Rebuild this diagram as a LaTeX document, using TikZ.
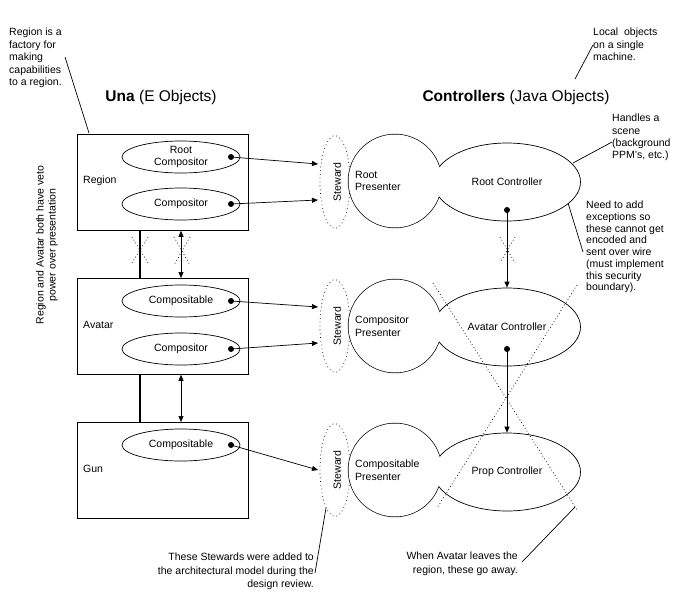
\documentclass[tikz,border=0pt]{standalone}
\usepackage{fontspec}
\setmainfont{Liberation Sans}
\usetikzlibrary{arrows.meta,shapes.geometric}
\begin{document}
\begin{tikzpicture}[x=1pt,y=-1pt,
  every node/.style={font=\fontsize{10.5}{12.5}\selectfont, inner sep=0pt},
  box/.style={draw, line width=0.8pt, minimum width=171pt, minimum height=96pt, anchor=north west},
  capell/.style={draw, ellipse, minimum width=118pt, minimum height=32pt, line width=0.7pt, align=center},
  stew/.style={draw, ellipse, dash pattern=on 0.8pt off 3pt, line width=0.7pt, minimum width=30pt, minimum height=93pt},
  pres/.style={draw, fill=white, circle, minimum size=93pt, line width=1.4pt},
  ctrl/.style={draw, fill=white, ellipse, minimum width=147pt, minimum height=78pt, line width=0.7pt},
  dotn/.style={circle, fill, minimum size=6pt},
  arr/.style={-{Triangle[length=6pt,width=5pt]}, line width=0.7pt},
  darr/.style={{Triangle[length=6pt,width=5pt]}-{Triangle[length=6pt,width=5pt]}, line width=0.7pt},
  dots/.style={dash pattern=on 0.8pt off 2.5pt, line width=0.7pt},
  note/.style={align=left},
  lead/.style={line width=0.7pt},
  title/.style={font=\fontsize{15.5}{18}\selectfont}
]
\useasboundingbox (0,0) rectangle (692,597);

% titles
\node[title] (una) at (161,97) {\textbf{Una} (E Objects)};
\node[title] (ctl) at (516,97) {\textbf{Controllers} (Java Objects)};

% boxes
\node[box] (region) at (77,134) {};
\node[box] (avatar) at (77,278) {};
\node[box] (gun) at (77,422) {};
\node[anchor=west] (regionl) at (83,181) {Region};
\node[anchor=west] (avatarl) at (83,325) {Avatar};
\node[anchor=west] (gunl) at (83,469) {Gun};

% capability ellipses
\node[capell] (rcomp) at (181,157) {Root\\Compositor};
\node[capell] (comp1) at (181,204) {Compositor};
\node[capell] (cable1) at (181,301) {Compositable};
\node[capell] (comp2) at (181,349) {Compositor};
\node[capell] (cable2) at (181,445) {Compositable};

\node[dotn] (d1) at (231,157) {};
\node[dotn] (d2) at (231,204) {};
\node[dotn] (d3) at (231,301) {};
\node[dotn] (d4) at (231,349) {};
\node[dotn] (d5) at (231,445) {};

% stewards
\node[stew] (st1) at (335,182) {};
\node[stew] (st2) at (335,326) {};
\node[stew] (st3) at (335,470) {};

% presenters and controllers (outlines merged)
\node[pres] (rp) at (395,181) {};
\node[pres] (cp) at (395,326) {};
\node[pres] (bp) at (395,470) {};
\node[ctrl] (rc) at (507,182) {Root Controller};
\node[ctrl] (ac) at (507,327) {Avatar Controller};
\node[ctrl] (pc) at (507,472) {Prop Controller};
\fill[white] (rp.center) circle (46.5);
\fill[white] (cp.center) circle (46.5);
\fill[white] (bp.center) circle (46.5);
\node[note, anchor=west] (rpt) at (355,181) {Root\\Presenter};
\node[note, anchor=west] (cpt) at (355,326) {Compositor\\Presenter};
\node[note, anchor=west] (bpt) at (355,470) {Compositable\\Presenter};

\node[rotate=90] (st1t) at (337,182) {Steward};
\node[rotate=90] (st2t) at (337,326) {Steward};
\node[rotate=90] (st3t) at (337,470) {Steward};

\coordinate (t1) at (318,164);
\coordinate (t2) at (318,200);
\coordinate (t3) at (318,307);
\coordinate (t4) at (318,343);
\coordinate (t5) at (318,470);
\draw[arr] (d1.center) -- (t1);
\draw[arr] (d2.center) -- (t2);
\draw[arr] (d3.center) -- (t3);
\draw[arr] (d4.center) -- (t4);
\draw[arr] (d5.center) -- (t5);

\node[dotn] (rcd) at (507,210) {};
\node[dotn] (acd) at (507,349) {};
\draw[arr] (rcd.center) -- (ac.north);
\draw[arr] (acd.center) -- (pc.north);

% region/avatar/gun links
\draw[line width=2.2pt] ([xshift=63pt]region.south west) -- ([xshift=63pt]avatar.north west);
\draw[line width=2.2pt] ([xshift=63pt]avatar.south west) -- ([xshift=63pt]gun.north west);
\draw[darr] (comp1.south |- region.south) -- (comp1.south |- avatar.north);
\draw[darr] (comp2.south |- avatar.south) -- (comp2.south |- gun.north);

% dotted crosses
\draw[dots] (132,237) -- (148,263);
\draw[dots] (148,237) -- (132,263);
\draw[dots] (174,237) -- (190,265);
\draw[dots] (190,237) -- (174,265);
\draw[dots] (500,237) -- (515,263);
\draw[dots] (515,237) -- (500,263);
\draw[dots] (433,283) -- (577,510);
\draw[dots] (577,285) -- (437,508);

% notes
\node[note, anchor=north west] (n1) at (9,28) {Region is a\\factory for\\making\\capabilities\\to a region.};
\coordinate (n1a) at (65,57);
\coordinate (n1b) at (89,133);
\draw[lead] (n1a) -- (n1b);

\node[note, anchor=north west] (n2) at (593,28) {Local\ \ objects\\on a single\\machine.};
\coordinate (n2a) at (575,79);
\coordinate (n2b) at (593,45);
\draw[lead] (n2a) -- (n2b);

\node[note, anchor=north west, font=\fontsize{10.5}{12.3}\selectfont] (n3) at (612,114) {Handles a\\scene\\(background\\PPM's, etc.)};
\coordinate (n3a) at (573,163);
\coordinate (n3b) at (612,142);
\draw[lead] (n3a) -- (n3b);

\node[note, anchor=north west, font=\fontsize{10.5}{11.7}\selectfont] (n4) at (586,201) {Need to add\\exceptions so\\these cannot get\\encoded and\\sent over wire\\(must implement\\this security\\boundary).};
\coordinate (n4a) at (568,203);
\coordinate (n4b) at (583,252);
\draw[lead] (n4a) -- (n4b);

\node[align=right, anchor=north east, font=\fontsize{10.5}{13.3}\selectfont] (n5) at (314,553) {These Stewards were added to\\the architectural model during the\\design review.};
\coordinate (n5a) at (326,508);
\coordinate (n5b) at (315,573);
\draw[lead] (n5a) -- (n5b);

\node[align=right, anchor=north east, font=\fontsize{10.5}{13.3}\selectfont] (n6) at (518,552) {When Avatar leaves the\\region, these go away.};
\coordinate (n6a) at (575,507);
\coordinate (n6b) at (522,562);
\draw[lead] (n6a) -- (n6b);

\node[align=center, rotate=90, font=\fontsize{10.5}{12}\selectfont] (veto) at (47,245) {Region and Avatar both have veto\\power over presentation};
\end{tikzpicture}
\end{document}
